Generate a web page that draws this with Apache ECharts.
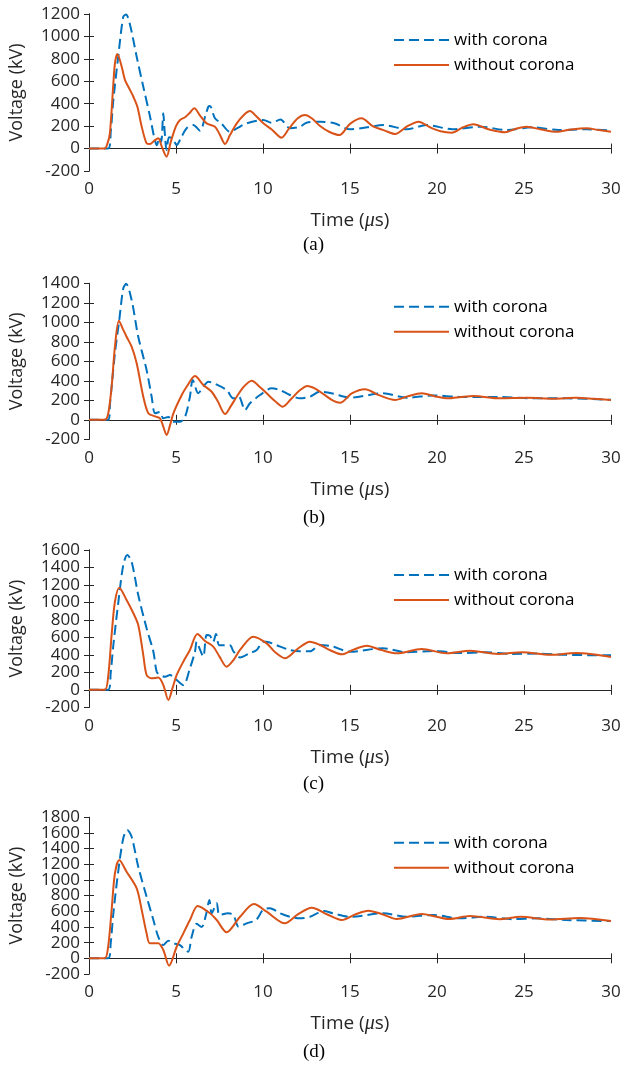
<!DOCTYPE html>
<html>
<head>
<meta charset="utf-8">
<script src="https://cdn.jsdelivr.net/npm/echarts@6/dist/echarts.min.js"></script>
<style>html,body{margin:0;padding:0;background:#fff}#c{width:624px;height:1067px}</style>
</head>
<body>
<div id="c"></div>
<script>
// x ticks (µs)
const xTicks = [0, 5, 10, 15, 20, 25, 30];
const seriesNames = ['with corona', 'without corona'];
const panelLabels = ['(a)', '(b)', '(c)', '(d)'];
const yMaxes = [1200, 1400, 1600, 1800];
const yMin = -200;

// Panel (a)
const withA = [[0,0],[1.1,0],[1.25,150],[1.4,433],[1.69,834],[1.97,1176],[2.13,1195],[2.36,1102],[2.74,819],[3.12,552],[3.51,284],[3.74,106],[3.9,30],[4.05,100],[4.15,60],[4.27,314],[4.35,150],[4.46,-13],[4.6,100],[4.8,90],[5.04,32],[5.3,100],[5.61,181],[5.99,210],[6.38,160],[6.7,300],[6.86,373],[6.95,380],[7.24,270],[7.6,225],[8.1,150],[8.5,180],[9.06,225],[10.02,255],[10.5,230],[11.0,260],[11.55,181],[12.13,195],[12.5,230],[13.28,240],[14.1,225],[15,172],[16.0,190],[16.9,210],[18.26,172],[19.4,210],[20.9,172],[22.5,195],[24,165],[25.5,190],[27,165],[28.6,172],[30,160]];
const withoutA = [[0,0],[0.9,0],[1.05,40],[1.2,136],[1.4,580],[1.5,770],[1.63,843],[1.88,730],[2.07,611],[2.36,522],[2.55,462],[2.78,373],[3.03,195],[3.31,47],[3.5,40],[3.75,70],[3.98,92],[4.2,10],[4.46,-72],[4.7,60],[5.0,200],[5.23,255],[5.52,279],[5.8,320],[6.05,359],[6.4,290],[6.76,225],[7.24,195],[7.5,130],[7.82,41],[8.1,120],[8.49,225],[8.9,300],[9.25,335],[9.6,290],[10.02,225],[10.5,170],[11.07,97],[11.5,180],[12.0,270],[12.41,299],[12.8,270],[13.28,201],[13.8,150],[14.39,121],[15.0,220],[15.67,270],[16.3,200],[17.0,160],[17.59,130],[18.3,200],[18.93,240],[19.6,190],[20.2,155],[20.84,142],[21.5,190],[22.09,216],[23.0,170],[23.91,145],[24.5,175],[25.15,195],[26.0,170],[26.88,150],[27.7,170],[28.6,181],[29.3,165],[30,150]];

// Panel (b)
const withB = [[0,0],[1.1,0],[1.21,169],[1.49,682],[1.74,1024],[1.97,1349],[2.13,1395],[2.45,1229],[2.83,852],[3.31,511],[3.6,237],[3.8,67],[4.08,80],[4.27,15],[4.56,30],[4.85,-20],[5.23,-20],[5.52,30],[5.8,237],[5.96,408],[6.28,272],[6.57,340],[6.86,390],[7.24,370],[7.91,305],[8.3,220],[8.6,240],[8.97,100],[9.25,169],[9.83,254],[10.5,323],[10.98,305],[11.55,254],[12.13,220],[12.7,237],[13.28,288],[14.0,270],[15,227],[16.9,272],[18.26,227],[19.8,250],[21.3,235],[23.6,235],[25.5,220],[27.4,220],[30,205]];
const withoutB = [[0,0],[0.9,0],[1.1,60],[1.3,339],[1.49,750],[1.72,1016],[1.95,930],[2.16,852],[2.45,750],[2.74,580],[3.12,237],[3.41,67],[3.8,35],[4.08,15],[4.25,-60],[4.46,-156],[4.65,-60],[4.85,67],[5.33,254],[5.61,339],[6.09,449],[6.57,357],[7.05,288],[7.4,190],[7.82,59],[8.15,140],[8.49,237],[8.9,340],[9.35,401],[9.8,340],[10.21,272],[10.7,190],[11.13,134],[11.6,210],[12.1,300],[12.55,347],[13.0,320],[13.5,260],[14.0,200],[14.43,175],[15.1,270],[15.86,313],[16.7,250],[17.59,203],[18.3,240],[19.12,272],[19.9,240],[20.65,220],[21.4,235],[22.1,244],[23.6,220],[25.2,225],[26.7,215],[28.0,225],[29,215],[30,203]];

// Panel (c)
const withC = [[0,0],[1.1,0],[1.25,200],[1.4,513],[1.69,1008],[1.97,1428],[2.2,1543],[2.45,1466],[2.83,1085],[3.31,704],[3.7,436],[3.89,207],[4.08,170],[4.37,150],[4.65,170],[5.04,112],[5.42,55],[5.8,246],[6.09,436],[6.19,550],[6.38,460],[6.57,379],[6.76,627],[6.95,620],[7.14,550],[7.3,640],[7.5,510],[8.1,510],[8.3,440],[8.68,370],[9.25,420],[9.64,455],[10.0,550],[10.2,550],[10.78,510],[11.55,455],[12.1,440],[12.7,440],[13.28,513],[14.0,495],[15,436],[16.9,475],[18.26,430],[19.8,445],[21.3,420],[22.8,430],[24.3,410],[25.8,415],[27.4,400],[30,395]];
const withoutC = [[0,0],[0.9,0],[1.1,150],[1.3,627],[1.49,1008],[1.74,1169],[2.16,1028],[2.55,876],[2.83,742],[3.12,398],[3.31,170],[3.6,132],[3.98,140],[4.27,55],[4.56,-116],[4.8,20],[5.04,170],[5.42,322],[5.8,456],[6.23,639],[6.67,559],[7.14,494],[7.5,380],[7.91,265],[8.3,340],[8.68,456],[9.44,608],[10.21,532],[10.7,430],[11.26,361],[12.0,470],[12.7,551],[13.28,513],[13.9,450],[14.52,406],[15.2,460],[15.96,505],[16.8,455],[17.68,418],[19.12,467],[20.56,418],[21.9,448],[23.5,410],[24.9,430],[26.5,400],[28.0,420],[30,376]];

// Panel (d)
const withD = [[0,0],[1.1,0],[1.25,200],[1.4,575],[1.69,1127],[1.97,1532],[2.2,1638],[2.45,1552],[2.83,1169],[3.31,787],[3.7,489],[3.98,276],[4.27,170],[4.56,225],[4.85,192],[5.23,170],[5.52,106],[5.71,85],[5.9,276],[6.19,440],[6.47,400],[6.72,553],[6.92,745],[7.05,575],[7.34,702],[7.5,553],[8.0,575],[8.3,553],[8.6,404],[9.06,446],[9.6,489],[10.0,617],[10.4,640],[10.98,575],[11.55,531],[12.1,510],[12.7,531],[13.5,604],[14.0,575],[15,530],[16.9,575],[18.26,531],[19.8,553],[21.3,510],[22.8,531],[24.3,500],[25.8,510],[27.4,490],[30,475]];
const withoutD = [[0,0],[0.9,0],[1.1,150],[1.3,617],[1.49,1085],[1.74,1255],[2.16,1106],[2.74,894],[3.03,617],[3.31,319],[3.5,192],[3.98,192],[4.27,106],[4.6,-94],[5.04,148],[5.42,319],[5.8,489],[6.25,668],[6.95,575],[7.34,489],[7.91,332],[8.68,531],[9.48,693],[10.21,595],[11.26,447],[12.0,560],[12.8,646],[13.7,560],[14.52,489],[15.3,560],[16.05,608],[16.9,560],[17.68,502],[19.12,566],[20.7,502],[21.9,540],[23.6,500],[24.8,530],[26.5,495],[28.2,515],[30,476]];

const withData = [withA, withB, withC, withD];
const withoutData = [withoutA, withoutB, withoutC, withoutD];

// layout
const gridTops = [14, 283.3, 550, 817.3];
const gridHeights = [157, 156, 157.3, 156.7];
const legendTops = [40, 306.7, 575, 842.7];
const labelYs = [247, 520, 786, 1054];

const BLUE = '#0072BD', ORANGE = '#D95319', AX = '#262626';
const FONT = 'Open Sans';
const yLabelStyle = {color: AX, margin: 9, fontSize: 17, fontFamily: FONT, hideOverlap: false, formatter: v => String(v)};

const grid = [], xAxis = [], yAxis = [], series = [], legend = [], graphic = [];
for (let i = 0; i < 4; i++) {
  grid.push({left: 89, right: 13, top: gridTops[i], height: gridHeights[i], outerBoundsMode: 'none', containLabel: false});
  const xBase = {gridIndex: i, type: 'value', min: xTicks[0], max: xTicks[xTicks.length-1], interval: 5,
    axisLine: {lineStyle: {color: AX, width: 1}}, axisTick: {inside: true, length: 5, lineStyle: {color: AX}},
    splitLine: {show: false}};
  xAxis.push(Object.assign({}, xBase, {position: 'bottom',
    axisLabel: {color: AX, fontSize: 17, fontFamily: FONT, margin: 10, formatter: v => String(v)},
    name: 'Time ({mu|μ}s)', nameLocation: 'middle', nameGap: 40,
    nameTextStyle: {color: AX, fontSize: 19, fontFamily: FONT,
      rich: {mu: {fontStyle: 'italic', fontFamily: 'Liberation Serif', fontSize: 20, color: AX}}}}));
  xAxis.push(Object.assign({}, xBase, {position: 'top', axisLabel: {show: false}}));
  const yBase = {gridIndex: i, type: 'value', min: yMin, max: yMaxes[i], interval: 200,
    axisLine: {show: true, lineStyle: {color: AX, width: 1}}, axisTick: {show: true, inside: true, length: 5, lineStyle: {color: AX}},
    splitLine: {show: false}};
  // main left axis: inner tick labels
  yAxis.push(Object.assign({}, yBase, {position: 'left',
    axisLabel: Object.assign({}, yLabelStyle, {showMinLabel: false, showMaxLabel: false}),
    name: 'Voltage (kV)', nameLocation: 'middle', nameGap: 63,
    nameTextStyle: {color: AX, fontSize: 18, fontFamily: FONT}}));
  // right mirror axis (ticks only)
  yAxis.push(Object.assign({}, yBase, {position: 'right', axisLabel: {show: false}}));
  // left helper axis: end labels (min and max)
  yAxis.push({gridIndex: i, type: 'value', min: yMin, max: yMaxes[i], interval: yMaxes[i] - yMin,
    position: 'left', offset: 0, axisLine: {show: false}, axisTick: {show: false}, splitLine: {show: false},
    axisLabel: Object.assign({}, yLabelStyle, {showMinLabel: true, showMaxLabel: true})});
  series.push({name: seriesNames[0], type: 'line', xAxisIndex: 2*i, yAxisIndex: 3*i, data: withData[i],
    showSymbol: false, symbol: 'none', smooth: 0.3, z: 2,
    lineStyle: {color: BLUE, width: 2, type: [10, 5]}, itemStyle: {color: BLUE}});
  series.push({name: seriesNames[1], type: 'line', xAxisIndex: 2*i, yAxisIndex: 3*i, data: withoutData[i],
    showSymbol: false, symbol: 'none', smooth: 0.3, z: 3,
    lineStyle: {color: ORANGE, width: 2}, itemStyle: {color: ORANGE}});
  legend.push({data: seriesNames, orient: 'vertical', left: 393, top: legendTops[i] - 9, itemWidth: 55, itemHeight: 14,
    itemGap: 7, padding: 0, selectedMode: false, itemStyle: {opacity: 0},
    textStyle: {color: '#000', fontSize: 17, fontFamily: FONT, lineHeight: 18}});
  graphic.push({type: 'text', left: 303, top: labelYs[i] - 11,
    style: {text: panelLabels[i], font: '19px "Liberation Serif", serif', fill: '#000'}});
}

const chart = echarts.init(document.getElementById('c'), null, {renderer: 'canvas'});
chart.setOption({animation: false, backgroundColor: '#fff', textStyle: {fontFamily: FONT},
  grid, xAxis, yAxis, series, legend, graphic});
</script>
</body>
</html>
